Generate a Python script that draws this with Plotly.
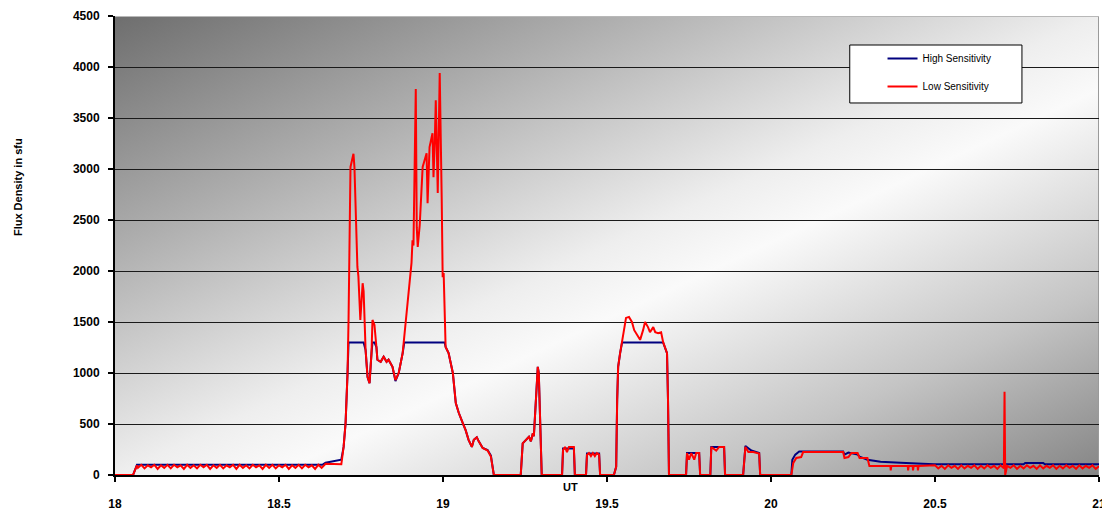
import base64
import plotly.graph_objects as go

# ---------------- data (UT hours, flux density in sfu) ----------------
low_t = [
    18.000, 18.055, 18.067,
    18.07, 18.08, 18.09, 18.10, 18.11, 18.12, 18.13, 18.14, 18.15, 18.16,
    18.17, 18.18, 18.19, 18.20, 18.21, 18.22, 18.23, 18.24, 18.25, 18.26,
    18.27, 18.28, 18.29, 18.30, 18.31, 18.32, 18.33, 18.34, 18.35, 18.36,
    18.37, 18.38, 18.39, 18.40, 18.41, 18.42, 18.43, 18.44, 18.45, 18.46,
    18.47, 18.48, 18.49, 18.50, 18.51, 18.52, 18.53, 18.54, 18.55, 18.56,
    18.57, 18.58, 18.59, 18.60, 18.61, 18.62, 18.63,
    18.642, 18.687, 18.690, 18.697, 18.703, 18.709, 18.712, 18.718, 18.724,
    18.727, 18.730, 18.733, 18.739, 18.742, 18.748, 18.755, 18.758, 18.764,
    18.770, 18.776, 18.782, 18.785, 18.791, 18.797, 18.800, 18.810, 18.819,
    18.828, 18.834, 18.846, 18.855, 18.865, 18.877, 18.886, 18.895, 18.904,
    18.907, 18.910, 18.917, 18.920, 18.923, 18.929, 18.938, 18.944, 18.950,
    18.953, 18.959, 18.968, 18.971, 18.975, 18.978, 18.984, 18.987, 18.990,
    18.996, 18.999, 19.002, 19.005, 19.008, 19.017, 19.030, 19.039, 19.048,
    19.060, 19.069, 19.078, 19.088, 19.094, 19.103, 19.109, 19.121, 19.136,
    19.146, 19.155,
    19.237, 19.243, 19.253, 19.262, 19.268, 19.274, 19.277, 19.283, 19.289,
    19.292, 19.295, 19.301,
    19.363, 19.366, 19.372, 19.378, 19.384, 19.399, 19.402,
    19.436, 19.439, 19.445, 19.451, 19.457, 19.463, 19.469, 19.476, 19.479,
    19.521, 19.528, 19.531, 19.534, 19.540, 19.546, 19.552, 19.558, 19.567,
    19.576, 19.583, 19.592, 19.601, 19.610, 19.616, 19.625, 19.631, 19.641,
    19.647, 19.656, 19.665, 19.671, 19.677, 19.683, 19.686, 19.689,
    19.741, 19.744, 19.750, 19.757, 19.766, 19.772, 19.781, 19.784,
    19.815, 19.818, 19.833, 19.842, 19.857, 19.860,
    19.915, 19.922, 19.931, 19.946, 19.964, 19.967,
    20.062, 20.068, 20.077, 20.092, 20.098, 20.220, 20.224, 20.236, 20.245,
    20.264, 20.270, 20.294, 20.300, 20.364, 20.365, 20.367, 20.417, 20.418,
    20.420, 20.432, 20.433, 20.435, 20.447, 20.448, 20.450, 20.490,
    20.50, 20.51, 20.52, 20.53, 20.54, 20.55, 20.56, 20.57, 20.58, 20.59,
    20.60, 20.61, 20.62, 20.63, 20.64, 20.65, 20.66, 20.67, 20.68, 20.69,
    20.70, 20.71, 20.712, 20.714, 20.72, 20.73, 20.74, 20.75, 20.76, 20.77,
    20.78, 20.79,
    20.80, 20.81, 20.82, 20.83, 20.84, 20.85, 20.86, 20.87, 20.88, 20.89,
    20.90, 20.91, 20.92, 20.93, 20.94, 20.95, 20.96, 20.97, 20.98, 20.99,
    21.00,
]
low_v = [
    0, 0, 95,
    70, 100, 65, 95, 75, 100, 60, 95, 70, 100,
    65, 100, 75, 95, 60, 100, 70, 95, 65, 100,
    75, 100, 60, 95, 70, 100, 65, 95, 75, 100,
    60, 100, 70, 95, 65, 100, 75, 95, 60, 100,
    70, 100, 65, 95, 75, 100, 60, 95, 70, 100,
    65, 100, 75, 95, 60, 100, 70,
    110, 110, 105, 275, 510, 1000, 1520, 3020, 3120,
    3150, 3020, 2600, 2040, 1950, 1520, 1880, 1800, 1225,
    960, 900, 1195, 1520, 1470, 1255, 1130, 1110, 1160,
    1110, 1130, 1060, 930, 1000, 1195, 1490, 1810, 2080,
    2300, 2250, 3785, 2430, 2235, 2450, 3020, 3080, 3155,
    2665, 3215, 3350, 2920, 3280, 3675, 2765, 3400, 3940,
    2720, 1940, 1980, 1450, 1255, 1195, 1000, 705, 610,
    510, 440, 345, 275, 345, 370, 330, 265, 240,
    180, 0,
    0, 310, 345, 375, 330, 410, 380, 735, 1060,
    1000, 650, 0,
    0, 245, 275, 225, 275, 275, 0,
    0, 196, 215, 185, 215, 185, 215, 200, 0,
    0, 80, 735, 1060, 1195, 1325, 1450, 1540, 1550,
    1500, 1420, 1370, 1325, 1420, 1500, 1450, 1400, 1450,
    1400, 1390, 1400, 1305, 1255, 1195, 735, 0,
    0, 215, 150, 215, 150, 215, 215, 0,
    0, 275, 240, 275, 275, 0,
    0, 275, 225, 225, 210, 0,
    0, 118, 167, 176, 225, 225, 167, 176, 215,
    215, 167, 167, 88, 88, 45, 88, 88, 45,
    88, 88, 45, 88, 88, 45, 88, 88,
    95, 65, 90, 60, 95, 70, 90, 60, 95, 65,
    90, 70, 95, 60, 90, 65, 95, 70, 90, 60,
    95, 65, 815, 0, 90, 70, 95, 60, 90, 65,
    95, 70,
    90, 60, 95, 65, 90, 70, 95, 60, 90, 65,
    95, 70, 90, 60, 95, 65, 90, 70, 95, 60,
    85,
]

high_t = [
    18.000, 18.055, 18.067, 18.632, 18.642, 18.680, 18.690, 18.697, 18.703,
    18.709, 18.712, 18.758, 18.764, 18.770, 18.776, 18.782, 18.785, 18.791,
    18.797, 18.800, 18.810, 18.819, 18.828, 18.834, 18.846, 18.855, 18.865,
    18.877, 18.882, 19.005, 19.008, 19.017, 19.030, 19.039, 19.048, 19.060,
    19.069, 19.078, 19.088, 19.094, 19.103, 19.109, 19.121, 19.136, 19.146,
    19.155,
    19.237, 19.243, 19.253, 19.262, 19.268, 19.274, 19.277, 19.283, 19.289,
    19.292, 19.295, 19.301,
    19.363, 19.366, 19.399, 19.402,
    19.436, 19.439, 19.476, 19.479,
    19.521, 19.528, 19.531, 19.534, 19.540, 19.546, 19.671, 19.677, 19.683,
    19.686, 19.689,
    19.741, 19.744, 19.781, 19.784,
    19.815, 19.818, 19.857, 19.860,
    19.915, 19.922, 19.940, 19.964, 19.967,
    20.062, 20.065, 20.074, 20.086, 20.220, 20.224, 20.236, 20.264, 20.270,
    20.294, 20.334, 20.395, 20.497, 20.770, 20.775, 20.830, 20.835, 21.000,
]
high_v = [
    0, 0, 100, 100, 120, 140, 150, 275, 510,
    1000, 1300, 1300, 1225, 960, 900, 1195, 1300, 1300,
    1255, 1130, 1110, 1160, 1110, 1130, 1060, 920, 1000,
    1195, 1300, 1300, 1255, 1195, 1000, 705, 610, 510,
    440, 345, 275, 345, 370, 330, 265, 245, 190,
    0,
    0, 310, 345, 375, 330, 410, 380, 735, 1060,
    1000, 650, 0,
    0, 260, 260, 0,
    0, 210, 210, 0,
    0, 80, 735, 1060, 1195, 1300, 1300, 1255, 1195,
    735, 0,
    0, 215, 215, 0,
    0, 275, 275, 0,
    0, 285, 240, 215, 0,
    0, 150, 200, 230, 230, 200, 220, 200, 180,
    150, 130, 120, 105, 105, 118, 118, 105, 105,
]

x_tickvals = [18, 18.5, 19, 19.5, 20, 20.5, 21]
x_ticktext = ["18", "18.5", "19", "19.5", "20", "20.5", "21"]
y_tickvals = [0, 500, 1000, 1500, 2000, 2500, 3000, 3500, 4000, 4500]

# ---------------- background gradient ----------------
svg = (
    '<svg xmlns="http://www.w3.org/2000/svg" width="983" height="459" '
    'preserveAspectRatio="none" viewBox="0 0 983 459">'
    '<defs><linearGradient id="g" x1="0" y1="0" x2="1" y2="1">'
    '<stop offset="0" stop-color="#6e6e6e"/>'
    '<stop offset="0.25" stop-color="#adadad"/>'
    '<stop offset="0.5" stop-color="#eeeeee"/>'
    '<stop offset="0.58" stop-color="#fafafa"/>'
    '<stop offset="0.8" stop-color="#c4c4c4"/>'
    '<stop offset="1" stop-color="#858585"/>'
    '</linearGradient></defs>'
    '<rect x="0" y="0" width="983" height="459" fill="url(#g)"/></svg>'
)
svg_uri = "data:image/svg+xml;base64," + base64.b64encode(svg.encode()).decode()

FONT = "Liberation Sans, Arial, sans-serif"

fig = go.Figure()
fig.add_trace(go.Scatter(
    x=high_t, y=high_v, mode="lines", name="High Sensitivity",
    line=dict(color="#00007f", width=2), legendgroup="h",
))
fig.add_trace(go.Scatter(
    x=low_t, y=low_v, mode="lines", name="Low Sensitivity",
    line=dict(color="#ff0000", width=2), legendgroup="l",
))

fig.update_layout(
    width=1102, height=511,
    margin=dict(l=115, r=3, t=16, b=36, autoexpand=False),
    paper_bgcolor="white",
    plot_bgcolor="#dddddd",
    font=dict(family=FONT, color="black"),
    showlegend=True,
    legend=dict(
        x=0.780, y=0.939, xanchor="left", yanchor="top",
        bgcolor="rgba(0,0,0,0)", borderwidth=0,
        font=dict(size=10, family=FONT, color="black"),
        tracegroupgap=9, traceorder="grouped",
    ),
    images=[dict(
        source=svg_uri, xref="paper", yref="paper", x=0, y=1,
        sizex=1, sizey=1, sizing="stretch", layer="below",
        xanchor="left", yanchor="top",
    )],
    xaxis=dict(
        range=[18, 21], tickvals=x_tickvals, ticktext=x_ticktext,
        showgrid=False, zeroline=False,
        showline=True, linecolor="black", linewidth=2,
        ticks="outside", ticklen=5, tickwidth=2, tickcolor="black",
        tickfont=dict(size=12, family=FONT, color="black", weight="bold"),
        ticklabelstandoff=12, automargin=False, ticklabeloverflow="allow",
    ),
    yaxis=dict(
        range=[0, 4500], tickvals=y_tickvals,
        showgrid=True, gridcolor="#1a1a1a", gridwidth=1.3,
        zeroline=False,
        showline=True, linecolor="black", linewidth=2,
        ticks="outside", ticklen=5, tickwidth=1.5, tickcolor="black",
        tickfont=dict(size=12, family=FONT, color="black", weight="bold"),
        ticklabelstandoff=6, automargin=False,
    ),
    shapes=[
        dict(type="line", xref="paper", yref="y", x0=0, x1=1, y0=4500, y1=4500,
             line=dict(color="#b8b8b8", width=2), layer="above"),
        dict(type="line", xref="x", yref="paper", x0=21, x1=21, y0=0, y1=1,
             line=dict(color="#9a9a9a", width=2), layer="below"),
        dict(type="rect", xref="paper", yref="paper",
             x0=0.7467, x1=0.9217, y0=0.8105, y1=0.9368,
             fillcolor="white", line=dict(color="black", width=1), layer="above"),
    ],
    annotations=[
        dict(text="<b>Flux Density in sfu</b>", textangle=-90,
             xref="paper", yref="paper", x=-0.0987, y=0.627,
             xanchor="center", yanchor="middle", showarrow=False,
             font=dict(size=11, family=FONT, color="black")),
        dict(text="<b>UT</b>", xref="x", yref="paper", x=19.39, y=-0.026,
             xanchor="center", yanchor="middle", showarrow=False,
             font=dict(size=11, family=FONT, color="black")),
    ],
)

fig.write_html("out.html")
